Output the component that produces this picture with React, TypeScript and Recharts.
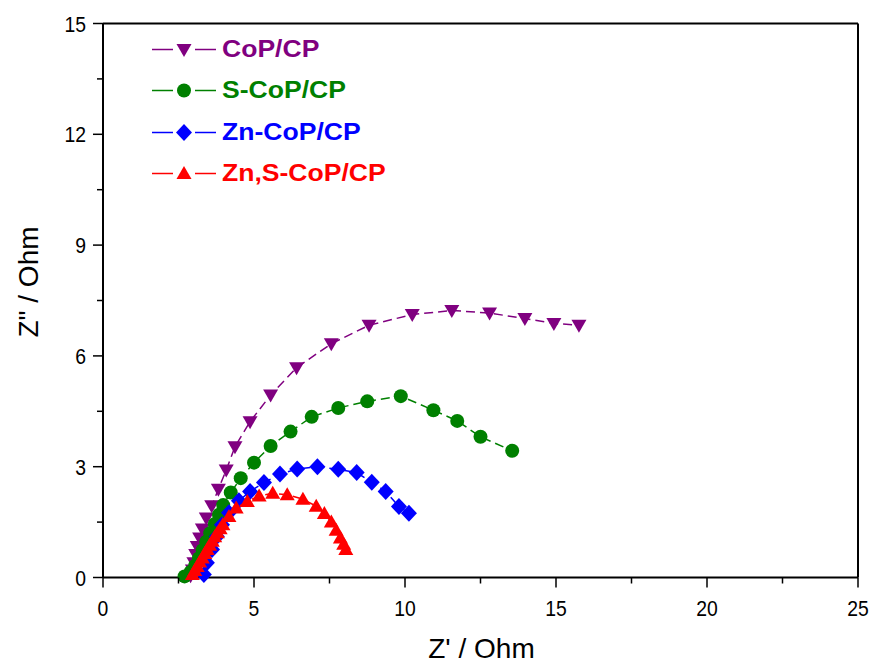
import React from "react";
import {
  ScatterChart,
  Scatter,
  XAxis,
  YAxis,
  ReferenceLine,
  Legend,
  Label,
} from "recharts";

// Nyquist data, [Z', Z''] in Ohm
const cop = [
  [2.9, 0.05], [2.96, 0.2], [3.01, 0.4], [3.07, 0.62], [3.12, 0.84], [3.2, 1.07],
  [3.29, 1.31], [3.42, 1.61], [3.6, 1.94], [3.82, 2.39], [4.08, 2.91], [4.37, 3.54],
  [4.87, 4.22], [5.55, 4.94], [6.41, 5.68], [7.56, 6.33], [8.81, 6.83], [10.24, 7.12],
  [11.55, 7.23], [12.8, 7.16], [13.97, 7.01], [14.93, 6.88], [15.76, 6.83],
];
const sCop = [
  [2.7, 0.03], [2.9, 0.15], [3.05, 0.32], [3.18, 0.52], [3.3, 0.74], [3.42, 0.97],
  [3.55, 1.2], [3.7, 1.45], [3.84, 1.7], [3.98, 1.96], [4.23, 2.3], [4.56, 2.69],
  [5.0, 3.11], [5.55, 3.56], [6.21, 3.95], [6.91, 4.35], [7.79, 4.59], [8.75, 4.77],
  [9.86, 4.91], [10.94, 4.53], [11.73, 4.24], [12.5, 3.81], [13.55, 3.43],
];
const znCop = [
  [3.34, 0.08], [3.44, 0.4], [3.61, 0.76], [3.77, 1.11], [3.94, 1.43], [4.17, 1.75],
  [4.5, 2.08], [4.87, 2.33], [5.33, 2.57], [5.86, 2.8], [6.43, 2.94], [7.1, 3.0],
  [7.79, 2.93], [8.4, 2.84], [8.9, 2.58], [9.36, 2.33], [9.8, 1.92], [10.13, 1.74],
];
const znSCop = [
  [2.96, 0.08], [3.04, 0.19], [3.12, 0.3], [3.2, 0.42], [3.29, 0.53], [3.37, 0.65],
  [3.45, 0.76], [3.53, 0.87], [3.62, 0.98], [3.7, 1.1], [3.79, 1.21], [3.88, 1.32],
  [3.97, 1.43], [4.17, 1.65], [4.41, 1.88], [4.78, 2.06], [5.17, 2.21], [5.62, 2.28],
  [6.1, 2.24], [6.62, 2.12], [7.06, 1.93], [7.33, 1.73], [7.56, 1.5], [7.72, 1.28],
  [7.86, 1.07], [7.97, 0.9], [8.04, 0.76],
];

const names = ["CoP/CP", "S-CoP/CP", "Zn-CoP/CP", "Zn,S-CoP/CP"];
const colors = ["#800080", "#008000", "#0000FF", "#FF0000"];
const shapes = ["down", "circle", "diamond", "up"];
const seriesData = [cop, sCop, znCop, znSCop];

const xTicks = [0, 2.5, 5, 7.5, 10, 12.5, 15, 17.5, 20, 22.5, 25];
const yTicks = [0, 1.5, 3, 4.5, 6, 7.5, 9, 10.5, 12, 13.5, 15];

const tickFont = "'Liberation Sans Narrow', 'Arial Narrow', 'Liberation Sans', Arial, sans-serif";
const titleFont = "'Liberation Sans', Arial, sans-serif";

const Marker = ({ kind, cx, cy, fill }: any) => {
  if (kind === "circle") return <circle cx={cx} cy={cy} r={7} fill={fill} />;
  if (kind === "diamond")
    return <path d={`M${cx},${cy - 8.5} L${cx + 8},${cy} L${cx},${cy + 8.5} L${cx - 8},${cy} Z`} fill={fill} />;
  if (kind === "down")
    return <path d={`M${cx - 7.5},${cy - 5.5} L${cx + 7.5},${cy - 5.5} L${cx},${cy + 7.5} Z`} fill={fill} />;
  return <path d={`M${cx - 7.5},${cy + 5.5} L${cx + 7.5},${cy + 5.5} L${cx},${cy - 7.5} Z`} fill={fill} />;
};

// narrow-looking digits: squeeze the regular face horizontally
const TickText = ({ x, y, anchor, children }: any) => (
  <text
    transform={`translate(${x},${y}) scale(0.88,1)`}
    textAnchor={anchor}
    fontSize={22}
    fontFamily={tickFont}
    fill="#000"
  >
    {children}
  </text>
);

const XTick = ({ x, y, payload }: any) => {
  const v = payload.value;
  const major = v % 5 === 0;
  return (
    <g>
      <line x1={x} x2={x} y1={y} y2={y + (major ? 10 : 6)} stroke="#000" strokeWidth={1.5} />
      {major && <TickText x={x} y={y + 38.5} anchor="middle">{v}</TickText>}
    </g>
  );
};

const YTick = ({ x, y, payload }: any) => {
  const v = payload.value;
  const major = v % 3 === 0;
  return (
    <g>
      <line x1={x} x2={x - (major ? 10 : 6)} y1={y} y2={y} stroke="#000" strokeWidth={1.5} />
      {major && <TickText x={x - 17} y={y + 8} anchor="end">{v}</TickText>}
    </g>
  );
};

const LegendBox = () => (
  <div style={{ display: "flex", flexDirection: "column" }}>
    {names.map((n, i) => (
      <div key={n} style={{ display: "flex", alignItems: "center", height: 41.3 }}>
        <svg width={64} height={41}>
          <line x1={0} x2={21} y1={20.5} y2={20.5} stroke={colors[i]} strokeWidth={1.5} />
          <line x1={43} x2={64} y1={20.5} y2={20.5} stroke={colors[i]} strokeWidth={1.5} />
          <Marker kind={shapes[i]} cx={32} cy={20.5} fill={colors[i]} />
        </svg>
        <span
          style={{
            display: "inline-block",
            marginLeft: 6,
            color: colors[i],
            fontFamily: titleFont,
            fontWeight: "bold",
            fontSize: 23.5,
            transform: "scaleX(1.13)",
            transformOrigin: "left center",
            whiteSpace: "nowrap",
          }}
        >
          {n}
        </span>
      </div>
    ))}
  </div>
);

export default function App() {
  return (
    <div style={{ position: "absolute", left: 0, top: 0, background: "#fff" }}>
      <ScatterChart width={874} height={663} margin={{ top: 23.5, right: 16, bottom: 0, left: 0 }}>
        <XAxis
          type="number"
          dataKey="x"
          domain={[0, 25]}
          ticks={xTicks}
          interval={0}
          height={85.5}
          tickSize={0}
          tickMargin={0}
          tickLine={false}
          tick={<XTick />}
          axisLine={{ stroke: "#000", strokeWidth: 2 }}
        >
          <Label
            value="Z' / Ohm"
            position="insideBottom"
            offset={5}
            dx={1}
            fontSize={28}
            fontFamily={titleFont}
            fill="#000"
          />
        </XAxis>
        <YAxis
          type="number"
          dataKey="y"
          domain={[0, 15]}
          ticks={yTicks}
          interval={0}
          width={103}
          tickSize={0}
          tickMargin={0}
          tickLine={false}
          tick={<YTick />}
          axisLine={{ stroke: "#000", strokeWidth: 2 }}
        >
          <Label
            content={({ viewBox }: any) => {
              const cx = viewBox.x + 38;
              const cy = viewBox.y + viewBox.height / 2 - 18.5;
              return (
                <text
                  x={cx}
                  y={cy}
                  transform={`rotate(-90 ${cx} ${cy})`}
                  textAnchor="middle"
                  fontSize={28}
                  fontFamily={titleFont}
                  fill="#000"
                >
                  {'Z" / Ohm'}
                </text>
              );
            }}
          />
        </YAxis>
        <ReferenceLine y={15} stroke="#000" strokeWidth={2} />
        <ReferenceLine x={25} stroke="#000" strokeWidth={2} />
        {seriesData.map((d, i) => (
          <Scatter
            key={names[i]}
            name={names[i]}
            data={d.map(([x, y]) => ({ x, y }))}
            fill={colors[i]}
            line={{ stroke: colors[i], strokeWidth: 1.5, strokeDasharray: "9 5" }}
            shape={(p: any) => <Marker kind={shapes[i]} cx={p.cx} cy={p.cy} fill={colors[i]} />}
            isAnimationActive={false}
          />
        ))}
        <Legend
          layout="vertical"
          align="center"
          verticalAlign="middle"
          content={() => <LegendBox />}
          wrapperStyle={{ left: 152, top: 29, width: 300 }}
        />
      </ScatterChart>
    </div>
  );
}
